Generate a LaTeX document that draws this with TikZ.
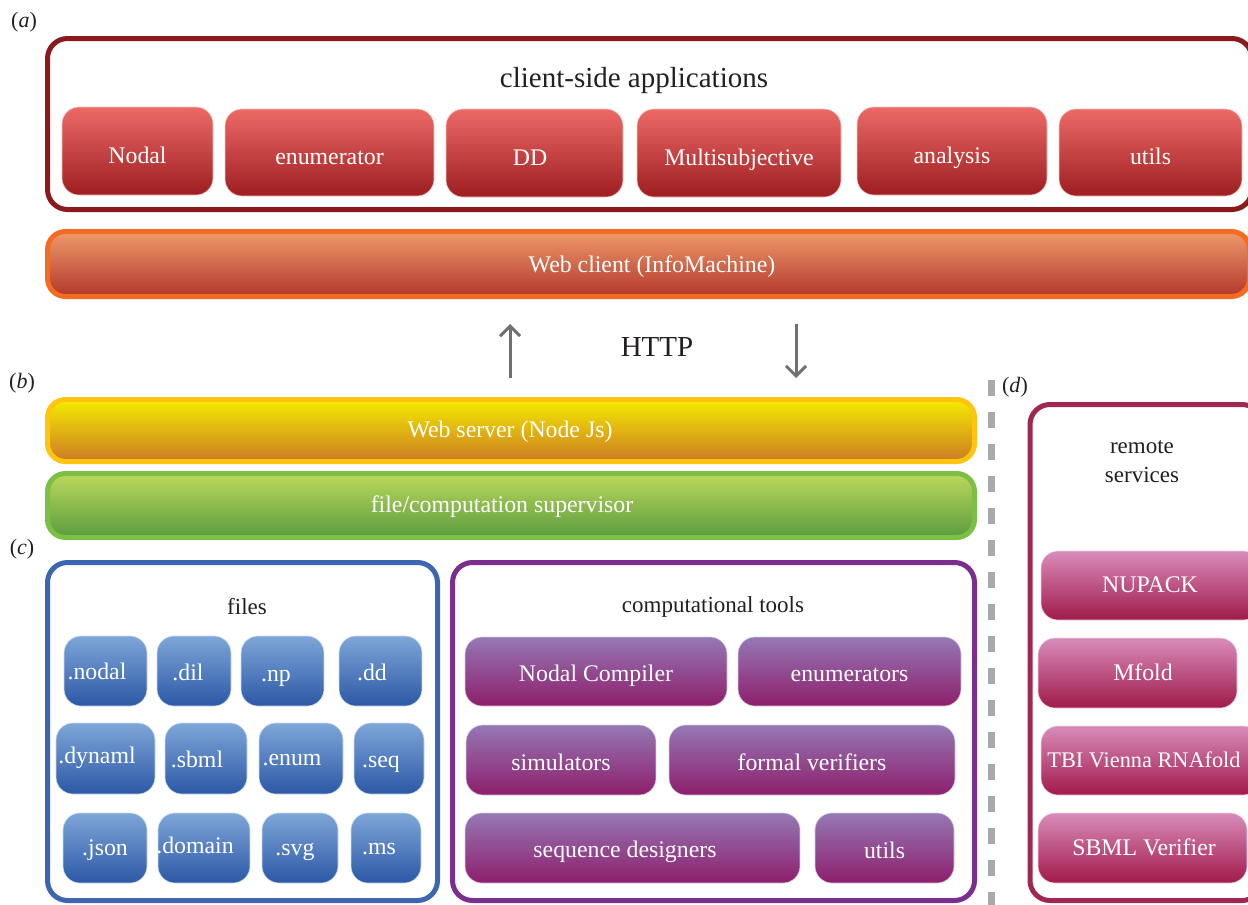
\documentclass[tikz,border=0pt]{standalone}
\usepackage{fontspec}
\setmainfont{Liberation Serif}
\usetikzlibrary{arrows.meta}
\definecolor{clientborder}{HTML}{8B1A1E}
\definecolor{redtop}{HTML}{EC6A66}
\definecolor{redbot}{HTML}{9E1D20}
\definecolor{orangeborder}{HTML}{F36C21}
\definecolor{orangetop}{HTML}{EE9A6C}
\definecolor{orangemid}{HTML}{D0602E}
\definecolor{orangebot}{HTML}{B3372A}
\definecolor{yelborder}{HTML}{FDC410}
\definecolor{yeltop}{HTML}{F4EC00}
\definecolor{yelbot}{HTML}{CC7A24}
\definecolor{grnborder}{HTML}{7CBF45}
\definecolor{grntop}{HTML}{BCD85C}
\definecolor{grnbot}{HTML}{5A9C3F}
\definecolor{fileborder}{HTML}{3C66B2}
\definecolor{bluetop}{HTML}{7EA6D8}
\definecolor{bluebot}{HTML}{2C58A6}
\definecolor{compborder}{HTML}{7A2E8E}
\definecolor{purtop}{HTML}{9578B4}
\definecolor{purmid}{HTML}{A23C94}
\definecolor{purbot}{HTML}{8E1E6C}
\definecolor{remborder}{HTML}{9E2852}
\definecolor{pinktop}{HTML}{D88CBA}
\definecolor{pinkmid}{HTML}{C7438F}
\definecolor{pinkbot}{HTML}{A11A4A}
\definecolor{arrgray}{HTML}{707070}
\definecolor{sepgray}{HTML}{A7A9AC}
\definecolor{txtblack}{HTML}{231F20}
\begin{document}
\begin{tikzpicture}[x=1pt,y=-1pt,
  every node/.style={inner sep=0pt, outer sep=0pt},
  btext/.style={font=\fontsize{23.8}{28}\selectfont, text=white, text height=20pt, text depth=0pt},
  ttext/.style={font=\fontsize{23}{27}\selectfont, text=txtblack, anchor=base},
  bigtext/.style={font=\fontsize{29}{33}\selectfont, text=txtblack, anchor=base},
  lbl/.style={font=\fontsize{22}{26}\selectfont, text=txtblack},
  frame/.style={draw, line width=5pt, rounded corners=20pt, fill=white},
  bar/.style={line width=5pt, rounded corners=18pt},
  redbox/.style={rounded corners=17pt, draw=redtop!40!white, line width=0.6pt, top color=redtop, bottom color=redbot, btext, text height=24pt},
  bluebox/.style={rounded corners=17pt, draw=bluetop!40!white, line width=0.6pt, top color=bluetop, bottom color=bluebot},
  purbox/.style={rounded corners=17pt, draw=purtop!40!white, line width=0.6pt, top color=purtop, middle color=purmid, bottom color=purbot, btext},
  pinkbox/.style={rounded corners=17pt, draw=pinktop!40!white, line width=0.6pt, top color=pinktop, middle color=pinkmid, bottom color=pinkbot},
  arr/.style={draw=arrgray, line width=3pt, -{Straight Barb[length=10pt,width=20pt,line width=3pt]}},
  sep/.style={draw=sepgray, line width=7pt, dash pattern=on 16pt off 16pt}
]
\useasboundingbox (0,0) rectangle (1248,905);

% ---------- (a) client side ----------
\node[lbl] (la) at (24,22) {(\textit{a})};
\node[frame, draw=clientborder, minimum width=1204.5pt, minimum height=171pt] (client) at (649.75,124) {};
\node[bigtext] (clienttitle) at (634,87) {client-side applications};

\node[redbox, minimum width=151pt, minimum height=88pt] (nodal) at (137.5,151) {Nodal};
\node[redbox, minimum width=209pt, minimum height=87pt] (enumer) at (329.5,152.5) {enumerator};
\node[redbox, minimum width=177pt, minimum height=88pt] (dd) at (534.5,153) {};
\node[btext, text height=24pt] (ddtxt) at (530,153) {DD};
\node[redbox, minimum width=204pt, minimum height=88pt] (multi) at (739,153) {Multisubjective};
\node[redbox, minimum width=190pt, minimum height=88pt] (analysis) at (952,151) {analysis};
\node[redbox, minimum width=183pt, minimum height=87pt] (cutils) at (1150.5,152.5) {utils};

\node[bar, draw=orangeborder, top color=orangetop, middle color=orangemid, bottom color=orangebot,
      minimum width=1202pt, minimum height=65pt] (webclient) at (648.5,264) {};
\node[btext] (webclienttxt) at (652,262) {Web client (InfoMachine)};

% ---------- HTTP ----------
\node[bigtext] (http) at (657,356) {HTTP};
\coordinate (upA) at (510,378);
\coordinate (upB) at (510,324);
\coordinate (dnA) at (796,324);
\coordinate (dnB) at (796,378);
\draw[arr] (upA) -- (upB);
\draw[arr] (dnA) -- (dnB);

% ---------- (b) server ----------
\node[lbl] (lb) at (22,383) {(\textit{b})};
\node[bar, draw=yelborder, top color=yeltop, bottom color=yelbot,
      minimum width=927pt, minimum height=62pt] (webserver) at (511,430.5) {};
\node[btext] (webservertxt) at (510,427) {Web server (Node Js)};
\node[bar, draw=grnborder, top color=grntop, bottom color=grnbot,
      minimum width=927pt, minimum height=64pt] (supervisor) at (511,505.5) {};
\node[btext] (supervisortxt) at (502,502) {file/computation supervisor};

% ---------- separator ----------
\coordinate (sepA) at (991,380);
\coordinate (sepB) at (991,910);
\draw[sep] (sepA) -- (sepB);

% ---------- (c) files ----------
\node[lbl] (lc) at (22,549) {(\textit{c})};
\node[frame, draw=fileborder, minimum width=390pt, minimum height=338pt] (files) at (242.5,731.5) {};
\node[ttext] (filestitle) at (247,614) {files};

\node[bluebox, minimum width=83pt, minimum height=70pt] (fnodal) at (105.5,671) {};
\node[btext] (tnodal) at (97,669) {.nodal};
\node[bluebox, minimum width=74pt, minimum height=70pt] (fdil) at (194,671) {};
\node[btext] (tdil) at (188,670) {.dil};
\node[bluebox, minimum width=83pt, minimum height=70pt] (fnp) at (282.5,671) {};
\node[btext] (tnp) at (276,671) {.np};
\node[bluebox, minimum width=83pt, minimum height=70pt] (fdd) at (380.5,671) {};
\node[btext] (tdd) at (372,670) {.dd};

\node[bluebox, minimum width=99pt, minimum height=71pt] (fdynaml) at (105.5,758.5) {};
\node[btext] (tdynaml) at (97,753) {.dynaml};
\node[bluebox, minimum width=82pt, minimum height=71pt] (fsbml) at (206,758.5) {};
\node[btext] (tsbml) at (197,757) {.sbml};
\node[bluebox, minimum width=84pt, minimum height=71pt] (fenum) at (301,758.5) {};
\node[btext] (tenum) at (292,755) {.enum};
\node[bluebox, minimum width=70pt, minimum height=71pt] (fseq) at (389,758.5) {};
\node[btext] (tseq) at (381,757) {.seq};

\node[bluebox, minimum width=84pt, minimum height=70pt] (fjson) at (105,848) {};
\node[btext] (tjson) at (105,845) {.json};
\node[bluebox, minimum width=92pt, minimum height=70pt] (fdomain) at (204,848) {};
\node[btext] (tdomain) at (195,843) {.domain};
\node[bluebox, minimum width=76pt, minimum height=70pt] (fsvg) at (300,848) {};
\node[btext] (tsvg) at (295,845) {.svg};
\node[bluebox, minimum width=70pt, minimum height=70pt] (fms) at (386,848) {};
\node[btext] (tms) at (379,844) {.ms};

% ---------- computational tools ----------
\node[frame, draw=compborder, minimum width=522pt, minimum height=338pt] (comp) at (713.5,731.5) {};
\node[ttext] (comptitle) at (713,612) {computational tools};

\node[purbox, minimum width=262pt, minimum height=69pt] (nodalc) at (596,671.5) {Nodal Compiler};
\node[purbox, minimum width=223pt, minimum height=69pt] (enums) at (849.5,671.5) {enumerators};
\node[purbox, minimum width=190pt, minimum height=70pt] (sims) at (561,760) {simulators};
\node[purbox, minimum width=286pt, minimum height=70pt] (formal) at (812,760) {formal verifiers};
\node[purbox, minimum width=335pt, minimum height=70pt] (seqd) at (632.5,848) {};
\node[btext] (seqdtxt) at (625,847) {sequence designers};
\node[purbox, minimum width=139pt, minimum height=70pt] (tutils) at (884.5,848) {utils};

% ---------- (d) remote services ----------
\node[lbl] (ld) at (1015,387) {(\textit{d})};
\node[frame, draw=remborder, minimum width=232pt, minimum height=496pt] (remote) at (1146,652.5) {};
\node[ttext] (remotet1) at (1142,453) {remote};
\node[ttext] (remotet2) at (1142,482) {services};

\node[pinkbox, minimum width=219pt, minimum height=69pt] (nupack) at (1150.5,585.5) {};
\node[btext] (tnupack) at (1150,582) {NUPACK};
\node[pinkbox, minimum width=199pt, minimum height=70pt] (mfold) at (1137.5,673) {};
\node[btext] (tmfold) at (1143,670) {Mfold};
\node[pinkbox, minimum width=219pt, minimum height=69pt] (tbi) at (1150.5,760.5) {};
\node[btext, font=\fontsize{22.3}{26}\selectfont] (ttbi) at (1144,757) {TBI Vienna RNAfold};
\node[pinkbox, minimum width=209pt, minimum height=70pt] (sbmlv) at (1142.5,848) {};
\node[btext] (tsbmlv) at (1144,845) {SBML Verifier};
\end{tikzpicture}
\end{document}
